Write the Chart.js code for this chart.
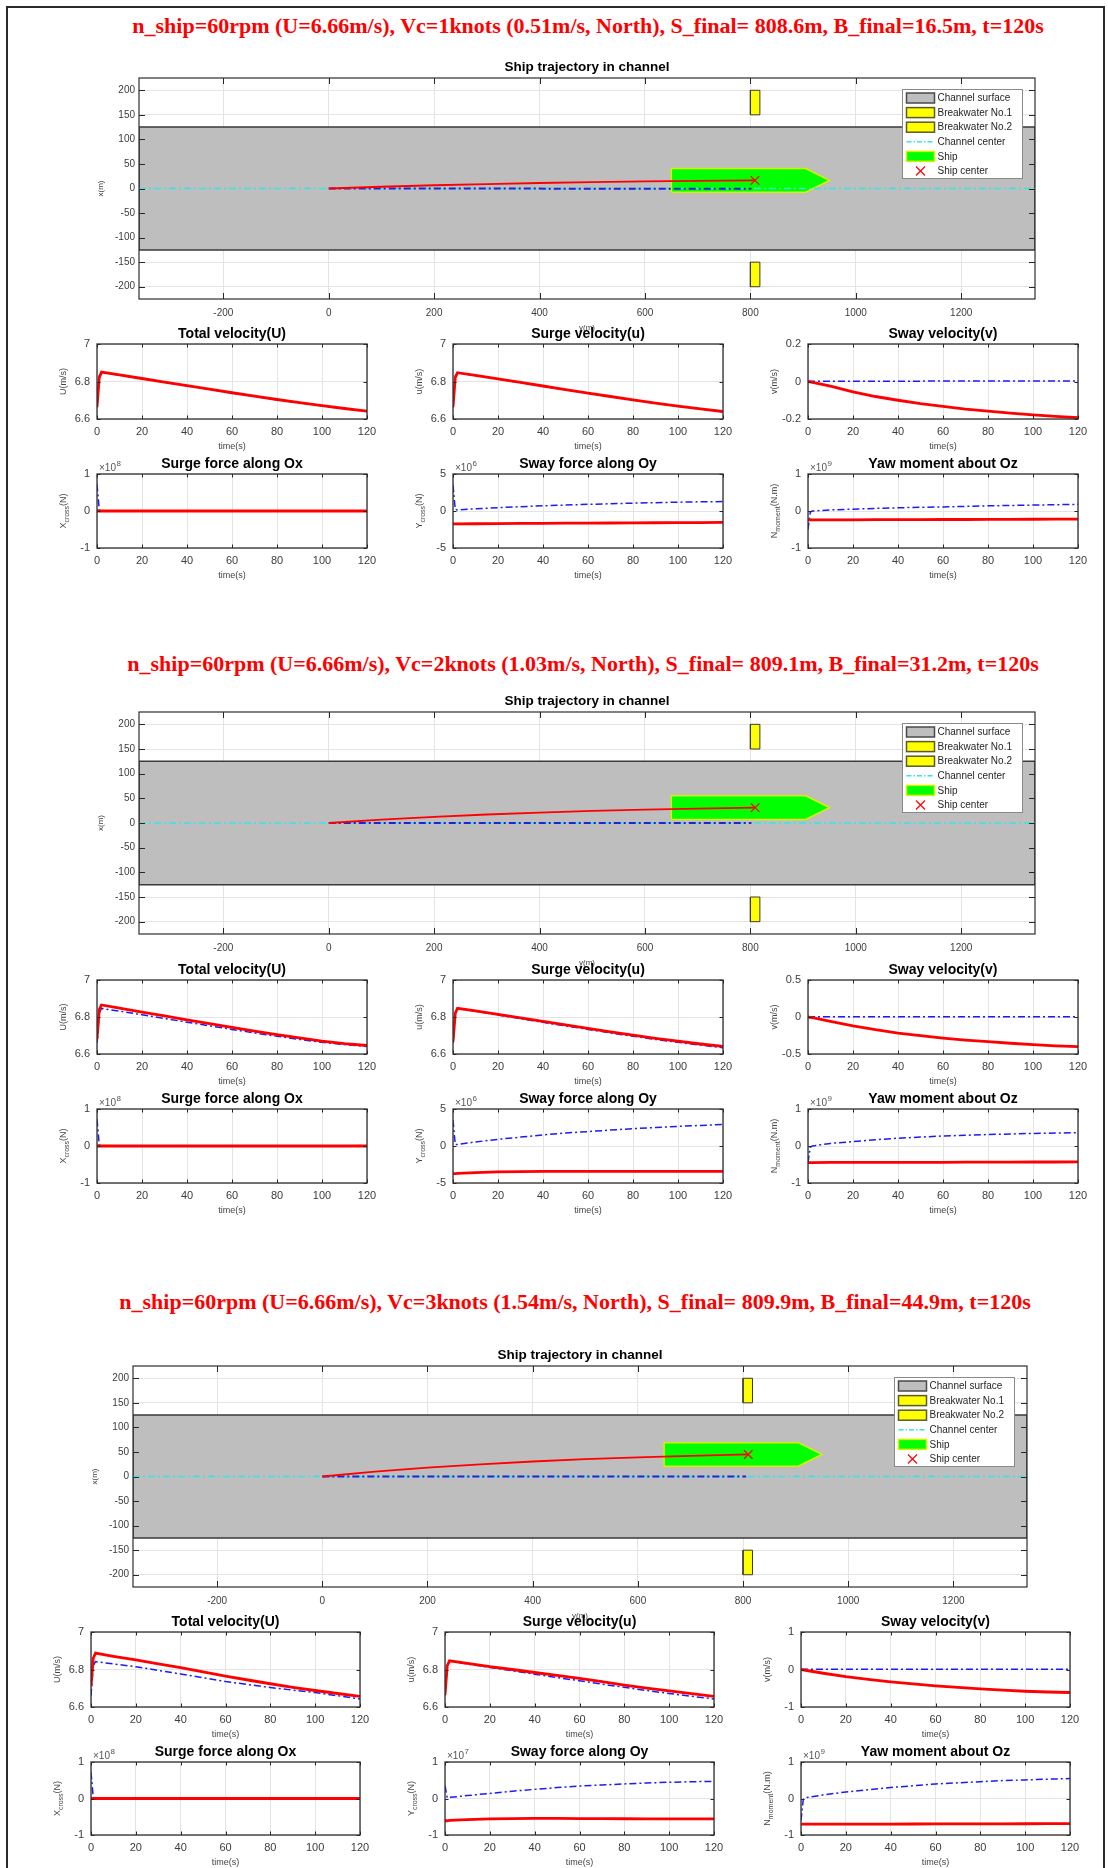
<!DOCTYPE html>
<html><head><meta charset="utf-8">
<script src="https://cdn.jsdelivr.net/npm/chart.js@4.4.0/dist/chart.umd.min.js"></script>
<style>
html,body{margin:0;padding:0;background:#fff;}
body{width:1108px;height:1868px;position:relative;overflow:hidden;}
#frame{position:absolute;left:6px;top:6px;width:1099px;height:1900px;border:2px solid #2a2a2a;box-sizing:border-box;}
.big{position:absolute;width:1000px;text-align:center;font-family:"Liberation Serif","Times New Roman",serif;font-weight:bold;font-size:22px;line-height:26px;color:#ff0000;white-space:nowrap;}
canvas{position:absolute;}
</style></head><body>
<div id="frame"></div>
<script>
// ================= DATA =================
const bigTitles = [
  "n_ship=60rpm (U=6.66m/s), Vc=1knots (0.51m/s, North), S_final= 808.6m, B_final=16.5m, t=120s",
  "n_ship=60rpm (U=6.66m/s), Vc=2knots (1.03m/s, North), S_final= 809.1m, B_final=31.2m, t=120s",
  "n_ship=60rpm (U=6.66m/s), Vc=3knots (1.54m/s, North), S_final= 809.9m, B_final=44.9m, t=120s"
];
const subTitles = ["Total velocity(U)","Surge velocity(u)","Sway velocity(v)","Surge force along Ox","Sway force along Oy","Yaw moment about Oz"];
const legendLabels = ["Channel surface","Breakwater No.1","Breakwater No.2","Channel center","Ship","Ship center"];

const timeS = [0,1,2,10,20,30,40,50,60,70,80,90,100,110,120];
const timeTicks = [0,20,40,60,80,100,120];
const timeTickLabels = ["0","20","40","60","80","100","120"];
const velTicks = [6.6,6.8,7];           const velTickLabels = ["6.6","6.8","7"];
const swayTicks1 = [-0.2,0,0.2];        const swayTickLabels1 = ["-0.2","0","0.2"];
const swayTicks2 = [-0.5,0,0.5];        const swayTickLabels2 = ["-0.5","0","0.5"];
const unitTicks = [-1,0,1];             const unitTickLabels = ["-1","0","1"];
const fiveTicks = [-5,0,5];             const fiveTickLabels = ["-5","0","5"];
const trajXTicks = [-200,0,200,400,600,800,1000,1200];
const trajXTickLabels = ["-200","0","200","400","600","800","1000","1200"];
const trajYTicks = [-200,-150,-100,-50,0,50,100,150,200];
const trajYTickLabels = ["-200","-150","-100","-50","0","50","100","150","200"];
const trajXLim = [-360,1340];
const trajYLim = [-225,225];

const channelX = [-360,1340,1340,-360,-360];
const channelY = [-125,-125,125,125,-125];
const bw1X = [800,818,818,800,800];  const bw1Y = [150,150,200,200,150];
const bw2X = [800,818,818,800,800];  const bw2Y = [-200,-200,-150,-150,-200];
const centerLineX = [-360,1340];     const centerLineY = [0,0];

const finalS = [808.6,809.1,809.9];
const finalB = [16.5,31.2,44.9];
const forceExp = [["8","6","9"],["8","6","9"],["8","7","9"]];

// ---- Vc = 1 knot ----
const vc1_trajX = [0,100,200,300,400,500,600,700,808.6];
const vc1_trajY = [0,3.6,6.6,9.1,11.2,13.0,14.4,15.5,16.5];
const vc1_refX = [0,802];  const vc1_refY = [0,-0.5];
const vc1_shipX = [650,905,950,905,650,650];
const vc1_shipY = [-7.5,-7.5,16.5,40.5,40.5,-7.5];
const vc1_U_red  = [6.665,6.82,6.85,6.835,6.816,6.797,6.778,6.759,6.740,6.722,6.704,6.687,6.671,6.656,6.642];
const vc1_U_blue = [6.660,6.83,6.848,6.834,6.815,6.796,6.777,6.758,6.739,6.721,6.703,6.686,6.670,6.655,6.641];
const vc1_u_red  = [6.665,6.82,6.847,6.833,6.814,6.795,6.776,6.757,6.738,6.720,6.702,6.685,6.669,6.654,6.640];
const vc1_u_blue = [6.660,6.83,6.846,6.832,6.813,6.794,6.775,6.756,6.737,6.719,6.701,6.684,6.668,6.653,6.639];
const vc1_v_red  = [0,-0.002,-0.005,-0.025,-0.055,-0.080,-0.100,-0.118,-0.133,-0.147,-0.158,-0.169,-0.178,-0.186,-0.193];
const vc1_v_blue = [0,0.002,0.002,0.002,0.002,0.002,0.002,0.002,0.003,0.003,0.003,0.003,0.003,0.003,0.003];
const vc1_X_red  = [0,0,0,0,0,0,0,0,0,0,0,0,0,0,0];
const vc1_X_blue = [0.72,0.03,0.01,0.005,0,0,0,0,0,0,0,0,0,0,0];
const vc1_Y_red  = [-1.75,-1.75,-1.74,-1.72,-1.70,-1.68,-1.67,-1.65,-1.63,-1.62,-1.60,-1.59,-1.58,-1.56,-1.55];
const vc1_Y_blue = [3.5,0.2,0.15,0.30,0.45,0.58,0.70,0.80,0.90,0.98,1.06,1.13,1.19,1.24,1.28];
const vc1_N_red  = [-0.24,-0.24,-0.24,-0.24,-0.24,-0.235,-0.235,-0.233,-0.23,-0.23,-0.228,-0.225,-0.223,-0.222,-0.22];
const vc1_N_blue = [-0.5,-0.03,0.0,0.03,0.05,0.07,0.085,0.10,0.11,0.125,0.14,0.15,0.16,0.17,0.18];

// ---- Vc = 2 knots ----
const vc2_trajX = [0,100,200,300,400,500,600,700,809.1];
const vc2_trajY = [0,6.9,12.5,17.2,21.2,24.6,27.1,29.3,31.2];
const vc2_refX = [0,802];  const vc2_refY = [0,0];
const vc2_shipX = [650,905,950,905,650,650];
const vc2_shipY = [7.2,7.2,31.2,55.2,55.2,7.2];
const vc2_U_red  = [6.68,6.84,6.865,6.848,6.827,6.806,6.785,6.764,6.744,6.724,6.705,6.687,6.670,6.656,6.646];
const vc2_U_blue = [6.66,6.82,6.846,6.832,6.812,6.792,6.772,6.752,6.733,6.714,6.696,6.679,6.663,6.651,6.640];
const vc2_u_red  = [6.665,6.82,6.847,6.833,6.814,6.795,6.776,6.757,6.738,6.720,6.702,6.685,6.669,6.654,6.641];
const vc2_u_blue = [6.660,6.82,6.846,6.831,6.811,6.791,6.771,6.752,6.733,6.714,6.696,6.679,6.663,6.648,6.634];
const vc2_v_red  = [0,-0.005,-0.01,-0.06,-0.12,-0.172,-0.217,-0.253,-0.285,-0.312,-0.334,-0.355,-0.374,-0.389,-0.40];
const vc2_v_blue = [0,0.005,0.005,0.005,0.005,0.005,0.005,0.005,0.005,0.005,0.005,0.005,0.005,0.005,0.005];
const vc2_X_red  = [0,0,0,0,0,0,0,0,0,0,0,0,0,0,0];
const vc2_X_blue = [0.72,0.03,0.01,0.005,0,0,0,0,0,0,0,0,0,0,0];
const vc2_Y_red  = [-3.74,-3.72,-3.70,-3.60,-3.50,-3.46,-3.44,-3.43,-3.43,-3.43,-3.43,-3.43,-3.43,-3.43,-3.42];
const vc2_Y_blue = [3.5,0.2,0.2,0.55,0.90,1.20,1.50,1.75,1.95,2.15,2.35,2.50,2.65,2.78,2.90];
const vc2_N_red  = [-0.45,-0.45,-0.45,-0.445,-0.445,-0.44,-0.44,-0.44,-0.44,-0.438,-0.436,-0.435,-0.433,-0.432,-0.43];
const vc2_N_blue = [-0.45,-0.03,0.0,0.07,0.12,0.17,0.21,0.24,0.27,0.29,0.31,0.325,0.34,0.35,0.36];

// ---- Vc = 3 knots ----
const vc3_trajX = [0,100,200,300,400,500,600,700,809.9];
const vc3_trajY = [0,9.9,18.0,24.7,30.5,35.5,39.1,42.2,44.9];
const vc3_refX = [0,806];  const vc3_refY = [0,0];
const vc3_shipX = [650,905,950,905,650,650];
const vc3_shipY = [20.9,20.9,44.9,68.9,68.9,20.9];
const vc3_U_red  = [6.71,6.86,6.887,6.870,6.851,6.830,6.810,6.787,6.765,6.744,6.724,6.705,6.688,6.672,6.657];
const vc3_U_blue = [6.66,6.82,6.842,6.830,6.815,6.795,6.776,6.756,6.736,6.720,6.704,6.690,6.677,6.660,6.643];
const vc3_u_red  = [6.665,6.82,6.846,6.833,6.815,6.800,6.784,6.769,6.753,6.735,6.717,6.701,6.686,6.671,6.657];
const vc3_u_blue = [6.660,6.82,6.844,6.830,6.811,6.793,6.775,6.757,6.740,6.722,6.705,6.688,6.672,6.657,6.643];
const vc3_v_red  = [0,-0.01,-0.02,-0.10,-0.19,-0.265,-0.33,-0.385,-0.435,-0.478,-0.515,-0.55,-0.58,-0.60,-0.614];
const vc3_v_blue = [0,0.01,0.01,0.01,0.01,0.01,0.01,0.01,0.01,0.01,0.01,0.01,0.01,0.01,0.01];
const vc3_X_red  = [0,0,0,0,0,0,0,0,0,0,0,0,0,0,0];
const vc3_X_blue = [0.72,0.03,0.01,0.005,0,0,0,0,0,0,0,0,0,0,0];
const vc3_Y_red  = [-0.61,-0.61,-0.60,-0.58,-0.56,-0.55,-0.545,-0.545,-0.55,-0.552,-0.555,-0.556,-0.557,-0.558,-0.56];
const vc3_Y_blue = [0.35,0.02,0.03,0.08,0.14,0.20,0.25,0.30,0.34,0.37,0.40,0.425,0.445,0.46,0.47];
const vc3_N_red  = [-0.70,-0.70,-0.70,-0.70,-0.70,-0.70,-0.70,-0.698,-0.697,-0.696,-0.695,-0.694,-0.692,-0.691,-0.69];
const vc3_N_blue = [-0.60,-0.03,0.02,0.10,0.18,0.24,0.30,0.35,0.40,0.43,0.46,0.49,0.51,0.53,0.545];

// ================= LAYOUT (page geometry) =================
const panels = [
  {big:[588,26], traj:{l:139,t:78,r:1035,b:299}, r1:[344,419], r2:[474,548], lefts:[97,453,808], w:270},
  {big:[583,664], traj:{l:139,t:712,r:1035,b:934}, r1:[980,1054], r2:[1109,1183], lefts:[97,453,808], w:270},
  {big:[575,1302], traj:{l:133,t:1366,r:1027,b:1587}, r1:[1632,1707], r2:[1762,1835], lefts:[91,445,801], w:269}
];

// ================= HELPERS =================
const zip = (xs, ys) => xs.map((x, i) => ({x: x, y: ys[i]}));
const RED = '#ff0000', BLUE = '#1a1aff';
const FONT = '"Liberation Sans", Arial, sans-serif';

const deco = {
  id: 'deco',
  afterDraw(chart, args, o) {
    const ctx = chart.ctx, a = chart.chartArea;
    const xs = chart.scales.x, ys = chart.scales.y;
    ctx.save();
    ctx.strokeStyle = '#262626'; ctx.lineWidth = 1;
    ctx.beginPath();
    xs.ticks.forEach(t => {
      const p = Math.round(xs.getPixelForValue(t.value)) + 0.5;
      ctx.moveTo(p, a.bottom); ctx.lineTo(p, a.bottom - o.tl);
      ctx.moveTo(p, a.top); ctx.lineTo(p, a.top + o.tl);
    });
    ys.ticks.forEach(t => {
      const p = Math.round(ys.getPixelForValue(t.value)) + 0.5;
      ctx.moveTo(a.left, p); ctx.lineTo(a.left + o.tl, p);
      ctx.moveTo(a.right, p); ctx.lineTo(a.right - o.tl, p);
    });
    ctx.stroke();
    ctx.strokeStyle = '#2e2e2e'; ctx.lineWidth = o.bw;
    ctx.strokeRect(a.left, a.top, a.right - a.left, a.bottom - a.top);
    ctx.fillStyle = '#000'; ctx.textAlign = 'center'; ctx.textBaseline = 'middle';
    ctx.font = o.tfont;
    ctx.fillText(o.title, (a.left + a.right) / 2, a.top - o.tdy);
    ctx.fillStyle = '#444'; ctx.font = o.lfont;
    ctx.fillText(o.xlabel, (a.left + a.right) / 2, a.bottom + o.xldy);
    ctx.save();
    ctx.translate(a.left - o.yldx, (a.top + a.bottom) / 2);
    ctx.rotate(-Math.PI / 2);
    ctx.textAlign = 'left';
    const [base, sub, rest] = o.ylabel;
    ctx.font = o.lfont; const w1 = ctx.measureText(base).width;
    ctx.font = o.sfont; const w2 = sub ? ctx.measureText(sub).width : 0;
    ctx.font = o.lfont; const w3 = ctx.measureText(rest).width;
    let x0 = -(w1 + w2 + w3) / 2;
    ctx.font = o.lfont; ctx.fillText(base, x0, 0);
    if (sub) { ctx.font = o.sfont; ctx.fillText(sub, x0 + w1, 3); }
    ctx.font = o.lfont; ctx.fillText(rest, x0 + w1 + w2, 0);
    ctx.restore();
    if (o.exp) {
      ctx.textAlign = 'left'; ctx.fillStyle = '#555';
      ctx.font = '10px ' + FONT;
      ctx.fillText('\u00d710', a.left + 2, a.top - 6);
      const wx = ctx.measureText('\u00d710').width;
      ctx.font = '8px ' + FONT;
      ctx.fillText(o.exp, a.left + 2 + wx + 0.5, a.top - 10);
    }
    if (o.legend) {
      const bw = 120, bh = 89, bx = Math.round(a.right - 13 - bw) + 0.5, by = Math.round(a.top + 11) + 0.5;
      ctx.fillStyle = '#fff'; ctx.fillRect(bx, by, bw, bh);
      ctx.strokeStyle = '#8a8a8a'; ctx.lineWidth = 1; ctx.strokeRect(bx, by, bw, bh);
      const items = [
        {type:'patch', fill:'#bebebe', stroke:'#4a4a4a'},
        {type:'patch', fill:'#ffff00', stroke:'#5a5a2a'},
        {type:'patch', fill:'#ffff00', stroke:'#5a5a2a'},
        {type:'line', color:'#33e6e6'},
        {type:'patch', fill:'#00ff00', stroke:'#d8f000'},
        {type:'marker', color:RED}
      ];
      items.forEach((it, i) => {
        const cy = by + 8.5 + i * 14.6;
        const px = bx + 4, pw = 28;
        if (it.type === 'patch') {
          ctx.fillStyle = it.fill; ctx.fillRect(px, cy - 5, pw, 10);
          ctx.strokeStyle = it.stroke; ctx.lineWidth = 1.5; ctx.strokeRect(px, cy - 5, pw, 10);
        } else if (it.type === 'line') {
          ctx.strokeStyle = it.color; ctx.lineWidth = 1.5; ctx.setLineDash([5,2,1.5,2]);
          ctx.beginPath(); ctx.moveTo(px, cy); ctx.lineTo(px + pw, cy); ctx.stroke(); ctx.setLineDash([]);
        } else {
          ctx.strokeStyle = it.color; ctx.lineWidth = 1.2; const cx = px + pw / 2, s = 4.5;
          ctx.beginPath(); ctx.moveTo(cx - s, cy - s); ctx.lineTo(cx + s, cy + s); ctx.moveTo(cx + s, cy - s); ctx.lineTo(cx - s, cy + s); ctx.stroke();
        }
        ctx.fillStyle = '#262626'; ctx.font = '10px ' + FONT; ctx.textAlign = 'left'; ctx.textBaseline = 'middle';
        ctx.fillText(legendLabels[i], bx + 35, cy + 0.5);
      });
    }
    ctx.restore();
  }
};

const M = {l:70, r:30, t:40, b:45};
const YW = 30, XH = 24;
function makeChart(rect, datasets, xs, ys, d) {
  const w = rect.r - rect.l, h = rect.b - rect.t;
  const cv = document.createElement('canvas');
  cv.width = w + M.l + M.r; cv.height = h + M.t + M.b;
  cv.style.left = (rect.l - M.l) + 'px'; cv.style.top = (rect.t - M.t) + 'px';
  cv.style.width = cv.width + 'px'; cv.style.height = cv.height + 'px';
  document.body.appendChild(cv);
  const axis = (s, isX) => ({
    type: 'linear', min: s.min, max: s.max,
    afterBuildTicks: sc => { sc.ticks = s.ticks.map(v => ({value: v})); },
    afterFit: sc => { if (isX) sc.height = XH; else sc.width = YW; },
    grid: {color: '#e4e4e4', lineWidth: 1, drawTicks: false},
    border: {display: false},
    ticks: {padding: s.pad, autoSkip: false, maxRotation: 0, color: '#3c3c3c',
      font: {family: FONT, size: s.fs}, callback: (v, i) => s.labels[i]}
  });
  return new Chart(cv, {
    type: 'scatter',
    data: {datasets: datasets},
    options: {
      responsive: false, animation: false, devicePixelRatio: 1,
      events: [],
      layout: {padding: {left: M.l - YW, right: M.r, top: M.t, bottom: M.b - XH}},
      plugins: {legend: {display: false}, tooltip: {enabled: false}, deco: d},
      scales: {x: axis(xs, true), y: axis(ys, false)}
    },
    plugins: [deco]
  });
}

function lineDS(xs, ys, color, width, dash, order) {
  return {data: zip(xs, ys), showLine: true, borderColor: color, borderWidth: width,
    borderDash: dash || [], pointRadius: 0, fill: false, tension: 0, order: order};
}
function shapeDS(xs, ys, fill, stroke, width, order) {
  return {data: zip(xs, ys), showLine: true, borderColor: stroke, borderWidth: width,
    backgroundColor: fill, fill: 'shape', pointRadius: 0, tension: 0, order: order};
}
const DASHDOT = [7,3,2,3];

const trajData = [
  {tx: vc1_trajX, ty: vc1_trajY, rx: vc1_refX, ry: vc1_refY, sx: vc1_shipX, sy: vc1_shipY},
  {tx: vc2_trajX, ty: vc2_trajY, rx: vc2_refX, ry: vc2_refY, sx: vc2_shipX, sy: vc2_shipY},
  {tx: vc3_trajX, ty: vc3_trajY, rx: vc3_refX, ry: vc3_refY, sx: vc3_shipX, sy: vc3_shipY}
];
const subData = [
  [[vc1_U_red,vc1_U_blue],[vc1_u_red,vc1_u_blue],[vc1_v_red,vc1_v_blue],[vc1_X_red,vc1_X_blue],[vc1_Y_red,vc1_Y_blue],[vc1_N_red,vc1_N_blue]],
  [[vc2_U_red,vc2_U_blue],[vc2_u_red,vc2_u_blue],[vc2_v_red,vc2_v_blue],[vc2_X_red,vc2_X_blue],[vc2_Y_red,vc2_Y_blue],[vc2_N_red,vc2_N_blue]],
  [[vc3_U_red,vc3_U_blue],[vc3_u_red,vc3_u_blue],[vc3_v_red,vc3_v_blue],[vc3_X_red,vc3_X_blue],[vc3_Y_red,vc3_Y_blue],[vc3_N_red,vc3_N_blue]]
];
const swayAxes = [
  {ticks: swayTicks1, labels: swayTickLabels1},
  {ticks: swayTicks2, labels: swayTickLabels2},
  {ticks: unitTicks, labels: unitTickLabels}
];
const sideForceAxes = [
  {ticks: fiveTicks, labels: fiveTickLabels},
  {ticks: fiveTicks, labels: fiveTickLabels},
  {ticks: unitTicks, labels: unitTickLabels}
];
const yLabels = [["U","","(m/s)"],["u","","(m/s)"],["v","","(m/s)"],["X","cross","(N)"],["Y","cross","(N)"],["N","moment","(N.m)"]];

panels.forEach((P, k) => {
  const div = document.createElement('div');
  div.className = 'big'; div.textContent = bigTitles[k];
  div.style.left = (P.big[0] - 500) + 'px'; div.style.top = (P.big[1] - 13) + 'px';
  document.body.appendChild(div);

  const T = trajData[k];
  makeChart(P.traj, [
    shapeDS(channelX, channelY, '#bebebe', '#3a3a3a', 1.5, 10),
    shapeDS(bw1X, bw1Y, '#ffff00', '#3a3a3a', 1, 9),
    shapeDS(bw2X, bw2Y, '#ffff00', '#3a3a3a', 1, 9),
    shapeDS(T.sx, T.sy, '#00ff00', '#d8f000', 1.5, 8),
    lineDS(centerLineX, centerLineY, '#33e6e6', 1.5, DASHDOT, 7),
    lineDS(T.rx, T.ry, '#2222dd', 2, DASHDOT, 6),
    lineDS(T.tx, T.ty, RED, 1.8, null, 5),
    {data: [{x: finalS[k], y: finalB[k]}], showLine: false, pointStyle: 'crossRot', pointRadius: 6,
     pointBorderColor: RED, pointBorderWidth: 1.3, pointBackgroundColor: RED, order: 1}
  ],
  {min: trajXLim[0], max: trajXLim[1], ticks: trajXTicks, labels: trajXTickLabels, fs: 10, pad: 8},
  {min: trajYLim[0], max: trajYLim[1], ticks: trajYTicks, labels: trajYTickLabels, fs: 10, pad: 4},
  {title: 'Ship trajectory in channel', tfont: 'bold 13.5px ' + FONT, tdy: 11, xlabel: 'y(m)', xldy: 29,
   ylabel: ['x(m)','',''], yldx: 38, lfont: '8px ' + FONT, sfont: '6px ' + FONT, tl: 6, bw: 1.2, legend: true});

  for (let j = 0; j < 6; j++) {
    const row = j < 3 ? P.r1 : P.r2;
    const l = P.lefts[j % 3];
    const rect = {l: l, t: row[0], r: l + P.w, b: row[1]};
    let ys;
    if (j < 2) ys = {min: 6.6, max: 7, ticks: velTicks, labels: velTickLabels};
    else if (j === 2) ys = Object.assign({min: swayAxes[k].ticks[0], max: swayAxes[k].ticks[2]}, swayAxes[k]);
    else if (j === 4) ys = Object.assign({min: sideForceAxes[k].ticks[0], max: sideForceAxes[k].ticks[2]}, sideForceAxes[k]);
    else ys = {min: -1, max: 1, ticks: unitTicks, labels: unitTickLabels};
    ys.fs = 11; ys.pad = 7;
    const [red, blue] = subData[k][j];
    makeChart(rect, [
      lineDS(timeS, blue, BLUE, 1.5, DASHDOT, 2),
      lineDS(timeS, red, RED, 2.8, null, 1)
    ],
    {min: 0, max: 120, ticks: timeTicks, labels: timeTickLabels, fs: 11, pad: 6},
    ys,
    {title: subTitles[j], tfont: 'bold 14px ' + FONT, tdy: 10, xlabel: 'time(s)', xldy: 28,
     ylabel: yLabels[j], yldx: 33, lfont: '9px ' + FONT, sfont: '7px ' + FONT, tl: 3.5, bw: 1.3,
     exp: j >= 3 ? forceExp[k][j - 3] : null, legend: false});
  }
});
</script>
</body></html>
